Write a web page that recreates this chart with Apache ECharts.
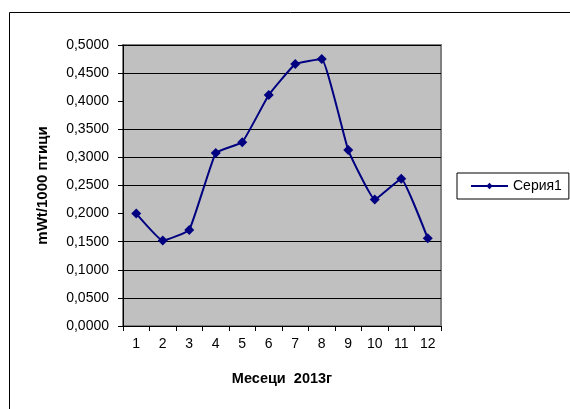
<!DOCTYPE html>
<html><head><meta charset="utf-8">
<script src="https://cdn.jsdelivr.net/npm/echarts@6/dist/echarts.min.js"></script>
<style>html,body{margin:0;padding:0;background:#fff}#c{width:570px;height:409px}</style>
</head><body><div id="c"></div>
<script>
var categories = ['1','2','3','4','5','6','7','8','9','10','11','12'];
var values = [0.200, 0.152, 0.171, 0.308, 0.327, 0.411, 0.466, 0.475, 0.313, 0.225, 0.262, 0.156];
var seriesName = 'Серия1';
var xTitle = 'Месеци  2013г';
var yTitle = 'mWt/1000 птици';

var chart = echarts.init(document.getElementById('c'));
var font = 'Liberation Sans, Arial, sans-serif';
chart.setOption({
  animation: false,
  graphic: [{
    type: 'rect', left: 7, top: 10, silent: true,
    shape: {width: 600, height: 450},
    style: {fill: 'none', stroke: '#000', lineWidth: 1}
  }],
  grid: {left: 123, top: 45, right: 129, bottom: 83, show: true, backgroundColor: '#C0C0C0', borderColor: '#808080', borderWidth: 2},
  legend: {
    data: [seriesName], left: 457, top: 173, orient: 'vertical',
    borderColor: '#000', borderWidth: 1, padding: [6, 7, 6, 13],
    itemWidth: 37, itemHeight: 8, itemGap: 0,
    textStyle: {fontFamily: font, fontSize: 14, color: '#000'}
  },
  xAxis: {
    type: 'category', data: categories, boundaryGap: true,
    name: xTitle, nameLocation: 'middle', nameGap: 45,
    nameTextStyle: {fontFamily: font, fontSize: 14.5, fontWeight: 'bold', color: '#000'},
    axisLine: {lineStyle: {color: '#000', width: 1}},
    axisTick: {show: true, length: 5, lineStyle: {color: '#000'}},
    axisLabel: {fontFamily: font, fontSize: 14, color: '#000', margin: 11},
    splitLine: {show: false}
  },
  yAxis: {
    type: 'value', min: 0, max: 0.5, interval: 0.05,
    name: yTitle, nameLocation: 'middle', nameGap: 73, nameRotate: 90,
    nameTextStyle: {fontFamily: font, fontSize: 15, fontWeight: 'bold', color: '#000'},
    axisLine: {show: true, lineStyle: {color: '#000', width: 1}},
    axisTick: {show: true, length: 5, lineStyle: {color: '#000'}},
    axisLabel: {fontFamily: font, fontSize: 14, color: '#000', margin: 14,
      formatter: function (v) { return v.toFixed(4).replace('.', ','); }},
    splitLine: {show: true, lineStyle: {color: ['#000','#000','#000','#000','rgba(0,0,0,0)','#000','#000','#000','rgba(0,0,0,0)','#000','#000'], width: 1}}
  },
  series: [{
    name: seriesName, type: 'line', data: values, smooth: 0.1,
    symbol: 'diamond', symbolSize: 10,
    lineStyle: {color: '#000080', width: 2},
    itemStyle: {color: '#000080'}
  }]
});
</script></body></html>
